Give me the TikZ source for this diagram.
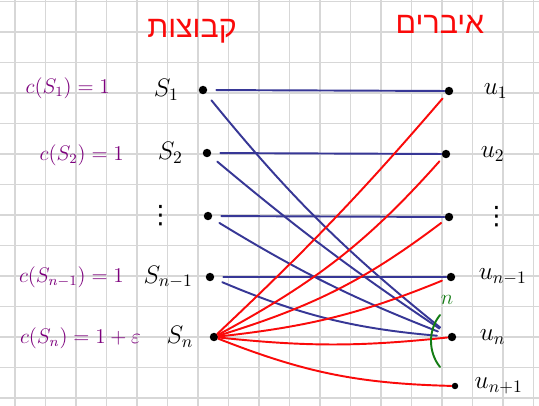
\documentclass[tikz,border=0pt]{standalone}
\usepackage{fontspec}
\usepackage{amsmath,amssymb}
\usepackage{tikz}
\usetikzlibrary{positioning, calc}
\newfontfamily\hebfont[Script=Hebrew]{Liberation Sans}
\newfontfamily\symfont{DejaVu Sans}
\TeXXeTstate=1
\definecolor{penblue}{RGB}{55,55,150}
\definecolor{penred}{RGB}{250,10,10}
\definecolor{penpurple}{RGB}{125,0,125}
\definecolor{pengreen}{RGB}{20,125,20}
\definecolor{gridgray}{RGB}{215,215,215}

\begin{document}
\begin{tikzpicture}[>=stealth, line cap=round, x=0.02cm, y=-0.02cm,
  dot/.style={circle, fill=black, inner sep=1.7pt},
  blueline/.style={penblue, line width=1.1pt, shorten <=5pt},
  redline/.style={penred, line width=1.1pt, shorten >=3pt},
  cost/.style={penpurple, font=\large, anchor=east},
  lbl/.style={font=\Large, inner sep=1pt},
  vdot/.style={font=\Large\symfont, inner sep=1pt}]

% Foglio a quadretti
\useasboundingbox (0,0) rectangle (539,406);
\fill[white] (0,0) rectangle (539,406);
\foreach \x in {0,...,17} \draw[gridgray, line width=0.8pt] ({15+30.5*\x},0) -- ({15+30.5*\x},406);
\foreach \y in {0,...,13} \draw[gridgray, line width=0.8pt] (0,{1.5+30.5*\y}) -- (539,{1.5+30.5*\y});

% Titoli
\node[penred, font=\LARGE\hebfont] (titS) at (192,31) {\beginR קבוצות\endR};
\node[penred, font=\LARGE\hebfont] (titU) at (440,24) {\beginR איברים\endR};

% Insiemi (sinistra)
\node[dot] (s1) at (203,90) {};
\node[dot] (s2) at (207,153) {};
\node[dot] (sd) at (208,216) {};
\node[dot] (sm) at (210,277) {};
\node[dot] (sn) at (214,337) {};

\node[lbl, left=10pt of s1] (ls1) {$S_1$};
\node[lbl, left=10pt of s2] (ls2) {$S_2$};
\node[vdot, left=16pt of sd] (lsd) {⋮};
\node[lbl, left=6pt of sm] (lsm) {$S_{n-1}$};
\node[lbl, left=8pt of sn] (lsn) {$S_n$};

% Costi
\node[cost] (c1) at (116,88) {$c(S_1)=1$};
\node[cost] (c2) at (130,155) {$c(S_2)=1$};
\node[cost] (cm) at (130,277) {$c(S_{n-1})=1$};
\node[cost] (cn) at (147,338) {$c(S_n)=1+\varepsilon$};

% Elementi (destra)
\node[dot] (u1) at (449,91) {};
\node[dot] (u2) at (446,154) {};
\node[dot] (ud) at (449,217) {};
\node[dot] (um) at (451,277) {};
\node[dot] (un) at (452,337) {};
\node[dot, inner sep=1.3pt] (uq) at (455,386) {};

\node[lbl, right=16pt of u1] (lu1) {$u_1$};
\node[lbl, right=16pt of u2] (lu2) {$u_2$};
\node[vdot, right=16pt of ud] (lud) {⋮};
\node[lbl, right=12pt of um] (lum) {$u_{n-1}$};
\node[lbl, right=12pt of un] (lun) {$u_n$};
\node[lbl, right=8pt of uq] (luq) {$u_{n+1}$};

% Archi blu
\draw[blueline] (s1) -- (u1);
\draw[blueline] (s2) -- (u2);
\draw[blueline] (sd) -- (ud);
\draw[blueline] (sm) -- (um);
\draw[blueline, shorten >=6pt] (s1) to[bend right=6] (un);
\draw[blueline, shorten >=6pt] (s2) to[bend right=3] (un);
\draw[blueline, shorten >=6pt] (sd) to[bend right=5] (un);
\draw[blueline, shorten >=6pt] (sm) to[bend right=9] (un);

% Archi rossi da S_n
\draw[redline] (sn) to[bend right=3] (u1);
\draw[redline] (sn) to[bend right=10] (u2);
\draw[redline] (sn) to[bend right=10] (ud);
\draw[redline] (sn) to[bend right=8] (um);
\draw[redline, shorten >=0pt] (sn) to[bend right=6] (un);
\draw[redline, shorten >=0pt] (sn) to[bend right=10] (uq);

% Parentesi verde
\draw[pengreen, line width=1.1pt] (440,315) .. controls (428,330) and (428,352) .. (440,367);
\node[pengreen, font=\large] (gn) at (447,300) {$n$};

\end{tikzpicture}
\end{document}
